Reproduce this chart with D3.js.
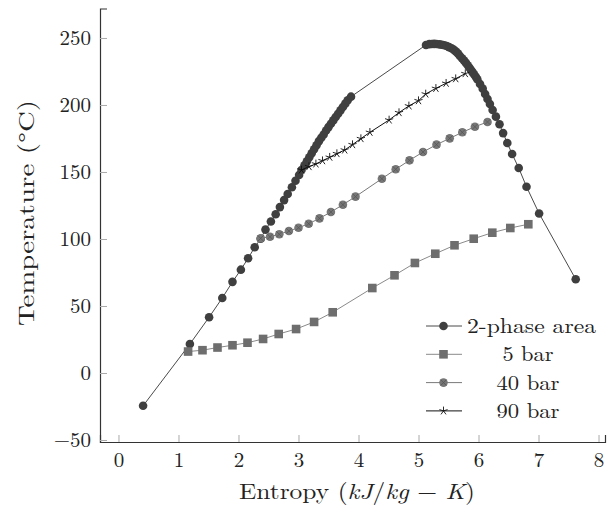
<!DOCTYPE html>
<html>
<head>
<meta charset="utf-8">
<script src="https://cdn.jsdelivr.net/npm/d3@7/dist/d3.min.js"></script>
<style>
  body { margin: 0; background: #fff; }
  svg text { font-family: "Latin Modern Roman", "Liberation Serif", serif; fill: #222; }
</style>
</head>
<body>
<svg id="chart" width="611" height="511"></svg>
<script>
// saturation dome (liquid side then vapour side)
const domeS = [0.41,1.19,1.51,1.73,1.90,2.04,2.16,2.27,2.37,2.45,2.54,2.62,2.69,2.76,2.82,2.89,2.95,3.01,3.05,3.10,3.14,3.18,3.22,3.26,3.30,3.34,3.38,3.42,3.46,3.50,3.54,3.58,3.62,3.66,3.70,3.74,3.78,3.82,3.875,
  5.125,5.18,5.22,5.26,5.30,5.35,5.39,5.43,5.47,5.51,5.55,5.59,5.625,5.66,5.69,5.725,5.76,5.79,5.82,5.85,5.875,5.90,5.925,5.955,5.98,6.025,6.07,6.11,6.15,6.19,6.235,6.29,6.35,6.41,6.48,6.56,6.67,6.80,7.01,7.62];
const domeT = [-24.5,21.6,41.6,56,68,77.1,85.6,93.8,100.2,107,113,118.5,123.8,129,133.6,138.6,143.5,147.8,151.5,155,158,161,164,167,170,173,175.5,178,181,183.5,186,188.5,191,193.5,196,198.5,201,203.5,206.2,
  244.8,245.4,245.5,245.6,245.5,245.2,245,244.6,244,243.2,242.3,241.1,239.8,238.3,236.6,234.9,233.1,231.4,229.6,227.8,226.1,224.5,222.9,221,219.2,215.7,212.2,208.2,204.5,200.7,196.3,191.3,185.6,179,171.6,163.4,153,139,119,70];

const bar5S = [1.16,1.40,1.65,1.90,2.15,2.41,2.67,2.96,3.26,3.57,4.23,4.60,4.94,5.28,5.60,5.92,6.23,6.53,6.83];
const bar5T = [16,17,19,20.7,22.6,25.4,29.1,32.8,38.1,45.3,63.4,72.9,82.1,89,95.3,100.2,104.7,108.2,111];

const bar40S = [2.37,2.525,2.68,2.84,3.00,3.17,3.35,3.54,3.74,3.95,4.39,4.62,4.85,5.075,5.30,5.52,5.73,5.94,6.15];
const bar40T = [100.5,101.7,103.5,106,108.4,111.4,115.4,120.1,125.6,131.6,145,152,158.7,164.9,170.4,175.1,179.6,183.8,187.3];

const bar90S = [3.05,3.175,3.29,3.40,3.52,3.64,3.77,3.90,4.04,4.19,4.51,4.675,4.84,5.0,5.12,5.29,5.46,5.62,5.78];
const bar90T = [151.5,154,156,158.4,161,163.7,166.4,170.4,174.9,179.6,188.8,194.3,199.3,203.2,208.2,212.4,216.2,219.6,223.4];

const xTicks = [0,1,2,3,4,5,6,7,8];
const yTicks = [-50,0,50,100,150,200,250];
const legendNames = ["2-phase area","5 bar","40 bar","90 bar"];

const svg = d3.select("#chart");
const x = d3.scaleLinear().domain([-0.308, 8.108]).range([100, 605]);
const y = d3.scaleLinear().domain([-51.5, 272]).range([442, 8.5]);

const zip = (a, b) => a.map((v, i) => [v, b[i]]);

// axes
const xAxis = svg.append("g").attr("transform", "translate(0,442)")
  .call(d3.axisBottom(x).tickValues(xTicks).tickSize(-7).tickPadding(10).tickFormat(d3.format("d")));
const yAxis = svg.append("g").attr("transform", "translate(100,0)")
  .call(d3.axisLeft(y).tickValues(yTicks).tickSize(-7).tickPadding(9).tickFormat(d => d < 0 ? "\u2212" + (-d) : d));
[xAxis, yAxis].forEach(g => {
  g.select(".domain").attr("stroke", "#333").attr("stroke-width", 1.2);
  g.selectAll(".tick line").attr("stroke", "#aaa").attr("stroke-width", 1);
  g.selectAll(".tick text").attr("font-size", 21).attr("fill", "#222")
    .style("font-family", '"Latin Modern Roman", "Liberation Serif", serif');
});
xAxis.selectAll(".tick text").attr("dy", "0.71em");

svg.append("text").attr("x", 357).attr("y", 499).attr("text-anchor", "middle").attr("font-size", 22)
  .attr("textLength", 236).attr("lengthAdjust", "spacingAndGlyphs")
  .html('Entropy (<tspan font-style="italic">kJ</tspan>/<tspan font-style="italic">kg</tspan> \u2212 <tspan font-style="italic">K</tspan>)');
svg.append("text").attr("transform", "translate(34,213) rotate(-90)").attr("text-anchor", "middle")
  .attr("font-size", 22).attr("textLength", 226).attr("lengthAdjust", "spacingAndGlyphs").text("Temperature (\u00B0C)");

const line = d3.line().x(d => x(d[0])).y(d => y(d[1]));

// marker painters
function dot(g, fill) { g.append("circle").attr("r", 4.3).attr("fill", fill); }
function square(g) { g.append("rect").attr("x", -4.3).attr("y", -4.3).attr("width", 8.6).attr("height", 8.6).attr("fill", "#6e6e6e"); }
function otimes(g) {
  g.append("circle").attr("r", 4.3).attr("fill", "#767676");
  g.append("path").attr("d", "M-3,-3L3,3M-3,3L3,-3").attr("stroke", "#555").attr("stroke-width", 0.8);
}
function star(g) {
  let d = "";
  for (let k = 0; k < 5; k++) {
    const a = -Math.PI / 2 + k * 2 * Math.PI / 5;
    d += "M0,0L" + (4.3 * Math.cos(a)).toFixed(2) + "," + (4.3 * Math.sin(a)).toFixed(2);
  }
  g.append("path").attr("d", d).attr("stroke", "#111").attr("stroke-width", 0.9).attr("fill", "none");
}

const series = [
  { pts: zip(domeS, domeT), stroke: "#4a4a4a", sw: 1, mark: g => dot(g, "#3f3f3f") },
  { pts: zip(bar5S, bar5T), stroke: "#8a8a8a", sw: 1, mark: square },
  { pts: zip(bar40S, bar40T), stroke: "#7a7a7a", sw: 1, mark: otimes },
  { pts: zip(bar90S, bar90T), stroke: "#111", sw: 1, mark: star }
];

series.forEach(s => {
  svg.append("path").attr("d", line(s.pts)).attr("fill", "none").attr("stroke", s.stroke).attr("stroke-width", s.sw);
  svg.append("g").selectAll("g").data(s.pts).join("g")
    .attr("transform", d => `translate(${x(d[0])},${y(d[1])})`)
    .each(function () { s.mark(d3.select(this)); });
});

// legend
const legWidths = [129, 51, 63, 63];
const leg = svg.append("g");
series.forEach((s, i) => {
  const ly = 326 + i * 28.3;
  leg.append("line").attr("x1", 426).attr("x2", 462).attr("y1", ly).attr("y2", ly)
    .attr("stroke", s.stroke).attr("stroke-width", s.sw);
  s.mark(leg.append("g").attr("transform", `translate(443.5,${ly})`));
  leg.append("text").attr("x", i === 0 ? 467 : 528).attr("y", ly + 7)
    .attr("text-anchor", i === 0 ? "start" : "middle").attr("font-size", 21)
    .attr("textLength", legWidths[i]).attr("lengthAdjust", "spacingAndGlyphs").text(legendNames[i]);
});
</script>
</body>
</html>
